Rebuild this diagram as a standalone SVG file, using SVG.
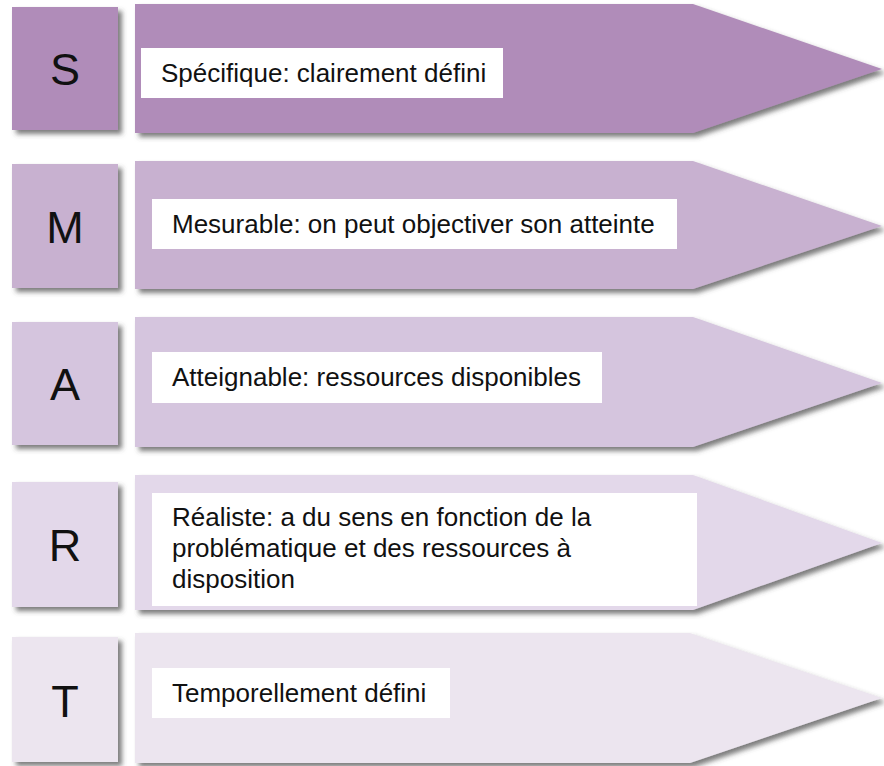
<svg xmlns="http://www.w3.org/2000/svg" width="884" height="766" viewBox="0 0 884 766">
  <defs>
    <filter id="sh" x="-5%" y="-10%" width="115%" height="130%">
      <feDropShadow dx="4" dy="4" stdDeviation="2.5" flood-color="#444" flood-opacity="0.7"/>
    </filter>
  </defs>
  <style>
    .letter { font-family: "Liberation Sans", Arial, sans-serif; font-size: 45px; fill: #111; text-anchor: middle; }
    .lbl { font-family: "Liberation Sans", Arial, sans-serif; font-size: 26px; fill: #111; }
    .wb { fill: #ffffff; }
    .s { fill: #b08cb9; }
    .m { fill: #c8b1d0; }
    .a { fill: #d5c5de; }
    .r { fill: #e3d8ea; }
    .t { fill: #ece5ef; }
  </style>
  <rect width="884" height="766" fill="#ffffff"/>

  <g id="row-S">
    <rect class="s" x="12" y="7" width="106" height="123" filter="url(#sh)"/>
    <polygon class="s" points="135,4 693,4 882,69 693,133 135,133" filter="url(#sh)"/>
    <text class="letter" x="65" y="85">S</text>
    <rect class="wb" x="141" y="48" width="362" height="50"/>
    <text class="lbl" x="161" y="82">Spécifique: clairement défini</text>
  </g>

  <g id="row-M">
    <rect class="m" x="12" y="164" width="106" height="124" filter="url(#sh)"/>
    <polygon class="m" points="135,161 693,161 882,226 693,289 135,289" filter="url(#sh)"/>
    <text class="letter" x="65" y="243">M</text>
    <rect class="wb" x="152" y="199" width="525" height="50"/>
    <text class="lbl" x="172" y="233">Mesurable: on peut objectiver son atteinte</text>
  </g>

  <g id="row-A">
    <rect class="a" x="12" y="322" width="106" height="123" filter="url(#sh)"/>
    <polygon class="a" points="135,317 693,317 882,383 693,447 135,447" filter="url(#sh)"/>
    <text class="letter" x="65" y="400">A</text>
    <rect class="wb" x="152" y="352" width="450" height="51"/>
    <text class="lbl" x="172" y="386">Atteignable: ressources disponibles</text>
  </g>

  <g id="row-R">
    <rect class="r" x="12" y="482" width="106" height="125" filter="url(#sh)"/>
    <polygon class="r" points="135,475 693,475 882,543 693,610 135,610" filter="url(#sh)"/>
    <text class="letter" x="65" y="561">R</text>
    <rect class="wb" x="152" y="493" width="545" height="113"/>
    <text class="lbl" x="172" y="526">Réaliste: a du sens en fonction de la</text>
    <text class="lbl" x="172" y="557">problématique et des ressources à</text>
    <text class="lbl" x="172" y="588">disposition</text>
  </g>

  <g id="row-T">
    <rect class="t" x="12" y="637" width="106" height="125" filter="url(#sh)"/>
    <polygon class="t" points="135,633 690,633 882,698 690,763 135,763" filter="url(#sh)"/>
    <text class="letter" x="65" y="717">T</text>
    <rect class="wb" x="152" y="668" width="298" height="50"/>
    <text class="lbl" x="172" y="702">Temporellement défini</text>
  </g>

  <g id="connectors"/>
</svg>
